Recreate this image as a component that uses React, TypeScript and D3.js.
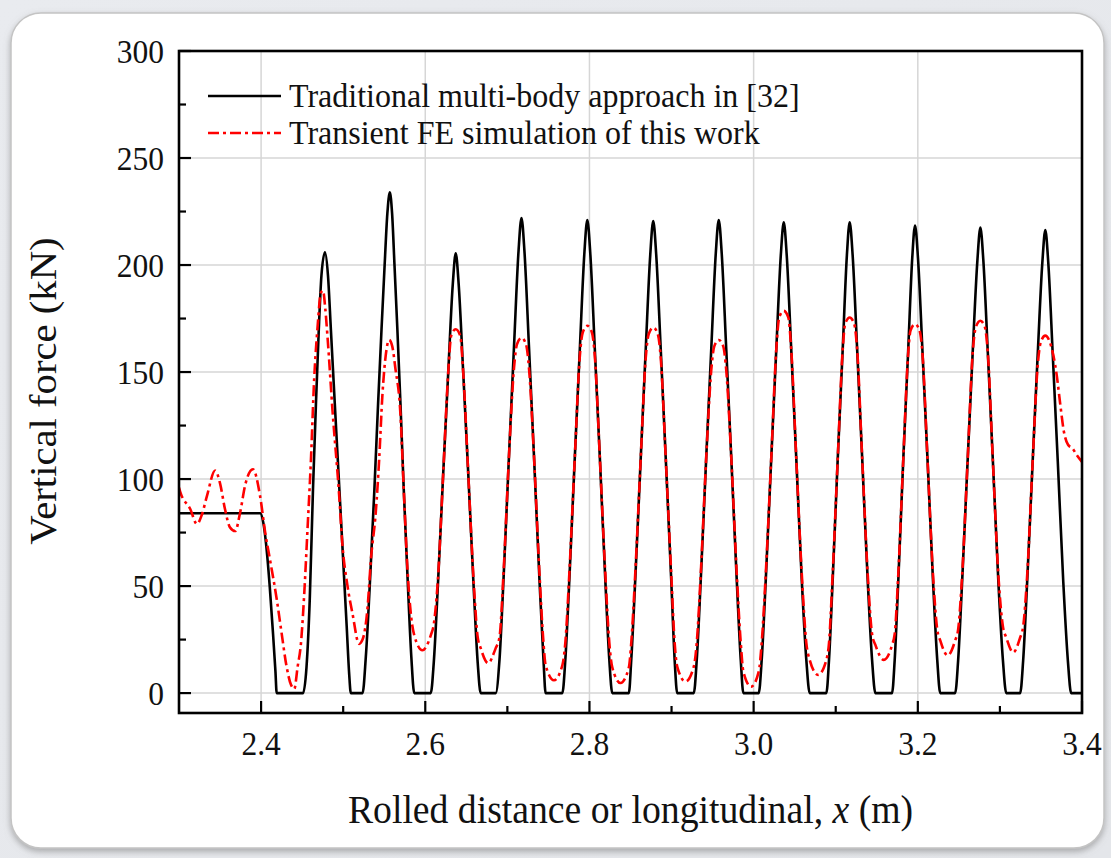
import React from "react";
import * as d3 from "d3";

// ---------- data ----------
const xTickValues = [2.4, 2.6, 2.8, 3.0, 3.2, 3.4];
const xTickLabels = ["2.4", "2.6", "2.8", "3.0", "3.2", "3.4"];
const xMinorTicks = [2.5, 2.7, 2.9, 3.1, 3.3];
const yTickValues = [0, 50, 100, 150, 200, 250, 300];
const yTickLabels = ["0", "50", "100", "150", "200", "250", "300"];
const yMinorTicks = [25, 75, 125, 175, 225, 275];

const seriesNames = [
  "Traditional multi-body approach in [32]",
  "Transient FE simulation of this work",
];

// Traditional multi-body approach (black solid) [x (m), force (kN)]
const multiBody: [number, number][] = [
  [2.3, 84], [2.399, 84], [2.4025, 80], [2.406, 70], [2.4105, 50], [2.4145, 28], [2.4175, 10], [2.419, 0],
  [2.4512, 0], [2.4553, 12], [2.4593, 44], [2.4632, 95], [2.4668, 135], [2.4703, 170], [2.4735, 195], [2.4778, 206],
  [2.4815, 195], [2.485, 170], [2.4898, 135], [2.4954, 95], [2.5, 62], [2.5043, 31], [2.5073, 9], [2.5093, 0],
  [2.5236, 0], [2.5276, 17], [2.533, 55], [2.538, 95], [2.5425, 135], [2.5467, 170], [2.5505, 200], [2.5538, 224], [2.5568, 234],
  [2.5596, 224], [2.5625, 200], [2.566, 170], [2.5698, 135], [2.5738, 95], [2.5783, 55], [2.583, 17], [2.5866, 0],
  [2.6067, 0], [2.6103, 14], [2.6152, 49], [2.6219, 103], [2.628, 150], [2.6335, 191], [2.6371, 205.5],
  [2.6407, 191], [2.6462, 150], [2.6523, 103], [2.659, 49], [2.6639, 14], [2.6675, 0],
  [2.6858, 0], [2.6904, 15.5], [2.6953, 53], [2.702, 111], [2.7081, 162], [2.7136, 206.5], [2.7172, 222],
  [2.7208, 206.5], [2.7263, 162], [2.7324, 111], [2.7391, 53], [2.744, 15.5], [2.7466, 0],
  [2.767, 0], [2.7706, 15.5], [2.7755, 53], [2.7822, 110.5], [2.7883, 161], [2.7938, 205.5], [2.7974, 221],
  [2.801, 205.5], [2.8065, 161], [2.8126, 110.5], [2.8193, 53], [2.8242, 15.5], [2.8278, 0],
  [2.848, 0], [2.8509, 15.4], [2.8558, 53], [2.8625, 110], [2.8686, 161], [2.8741, 205], [2.8777, 220.5],
  [2.8813, 205], [2.8868, 161], [2.8929, 110], [2.8996, 53], [2.9038, 15.4], [2.9069, 0],
  [2.9271, 0], [2.9307, 15.5], [2.9356, 53], [2.9423, 110.5], [2.9484, 161], [2.9539, 205.5], [2.9575, 221],
  [2.9611, 205.5], [2.9666, 161], [2.9727, 110.5], [2.9794, 53], [2.9843, 15.5], [2.9875, 0],
  [3.0062, 0], [3.0098, 15.4], [3.0148, 53], [3.0215, 110], [3.0276, 160.6], [3.0331, 204.6], [3.0367, 220],
  [3.0403, 204.6], [3.0458, 160.6], [3.0519, 110], [3.0586, 53], [3.0642, 15.4], [3.0683, 0],
  [3.0886, 0], [3.0918, 15.4], [3.0963, 53], [3.1025, 110], [3.1085, 160.6], [3.1136, 204.6], [3.117, 220],
  [3.1206, 204.6], [3.1261, 160.6], [3.1322, 110], [3.1389, 53], [3.1443, 15.4], [3.1483, 0],
  [3.1686, 0], [3.1718, 15.3], [3.1762, 52.4], [3.1823, 109.3], [3.1882, 159.5], [3.1932, 203.2], [3.1966, 218.5],
  [3.2002, 203.2], [3.2057, 159.5], [3.2118, 109.3], [3.2185, 52.4], [3.2237, 15.3], [3.2273, 0],
  [3.2455, 0], [3.2491, 15.2], [3.254, 52.2], [3.2607, 108.8], [3.2668, 158.8], [3.2726, 202.3], [3.2762, 217.5],
  [3.2798, 202.3], [3.2853, 158.8], [3.2914, 108.8], [3.2981, 52.2], [3.3037, 15.2], [3.3077, 0],
  [3.3247, 0], [3.3283, 15.1], [3.3332, 51.9], [3.3399, 108.2], [3.346, 157.9], [3.3517, 201.2], [3.3553, 216.3],
  [3.3589, 201.2], [3.3644, 157.9], [3.3705, 108.2], [3.3772, 51.9], [3.3828, 15.1], [3.3868, 0],
  [3.4, 0],
];

// Transient FE simulation (red dash-dot) [x (m), force (kN)]
const feSimulation: [number, number][] = [
  [2.3, 96], [2.3015, 94], [2.3137, 86], [2.3218, 79], [2.328, 83.5], [2.334, 92], [2.344, 104], [2.35, 98],
  [2.356, 86], [2.362, 77.5], [2.3684, 75.7], [2.3745, 84.4], [2.3805, 97], [2.39, 104.6], [2.3988, 92],
  [2.405, 75], [2.411, 62], [2.419, 44], [2.425, 28], [2.431, 12.5], [2.4363, 4], [2.4405, 2], [2.4444, 12],
  [2.4485, 23], [2.4525, 46], [2.4566, 77], [2.4606, 108], [2.4647, 147], [2.4688, 171], [2.4728, 187], [2.4755, 188],
  [2.4781, 180], [2.481, 166], [2.487, 132], [2.495, 93], [2.4989, 70], [2.5053, 50], [2.5114, 37], [2.5194, 23],
  [2.5236, 25], [2.5297, 40], [2.5337, 62], [2.5398, 85], [2.5438, 109], [2.5479, 140], [2.5519, 158], [2.5559, 165],
  [2.5598, 162], [2.5635, 152], [2.5698, 130], [2.5738, 95], [2.5783, 58], [2.583, 35], [2.5866, 27], [2.5966, 20],
  [2.6067, 27], [2.6103, 32], [2.6152, 52], [2.6219, 103], [2.628, 150], [2.6316, 167], [2.6371, 170],
  [2.6426, 167], [2.6462, 150], [2.6523, 103], [2.659, 52], [2.6639, 26], [2.6675, 21], [2.6766, 14],
  [2.6858, 21], [2.6904, 26], [2.6953, 56], [2.702, 111], [2.7081, 152], [2.7117, 163], [2.7172, 166],
  [2.7227, 163], [2.7263, 152], [2.7324, 111], [2.7391, 56], [2.744, 23.5], [2.7466, 13], [2.7568, 6],
  [2.767, 13], [2.7706, 23.5], [2.7755, 56], [2.7822, 110.5], [2.7883, 157.6], [2.7919, 168.6], [2.7974, 171.6],
  [2.8029, 168.6], [2.8065, 157.6], [2.8126, 110.5], [2.8193, 56], [2.8242, 23.5], [2.8278, 12], [2.8379, 4.7],
  [2.848, 12], [2.8509, 23.4], [2.8558, 56], [2.8625, 110], [2.8686, 156.8], [2.8722, 167.8], [2.8777, 170.8],
  [2.8832, 167.8], [2.8868, 156.8], [2.8929, 110], [2.8996, 56], [2.9038, 23.4], [2.9069, 12.4], [2.917, 5.4],
  [2.9271, 12.4], [2.9307, 23.5], [2.9356, 56], [2.9423, 110.5], [2.9484, 151], [2.952, 162], [2.9575, 165],
  [2.963, 162], [2.9666, 151], [2.9727, 110.5], [2.9794, 56], [2.9843, 23.5], [2.9875, 10], [2.9969, 3],
  [3.0062, 10], [3.0098, 23.4], [3.0148, 56], [3.0215, 110], [3.0276, 160.6], [3.0312, 175.6], [3.0367, 178.6],
  [3.0422, 175.6], [3.0458, 160.6], [3.0519, 110], [3.0586, 56], [3.0642, 23.4], [3.0683, 15.5], [3.0785, 8.5],
  [3.0886, 15.5], [3.0918, 23.4], [3.0963, 56], [3.1025, 110], [3.1085, 160.6], [3.1115, 172.5], [3.117, 175.5],
  [3.1225, 172.5], [3.1261, 160.6], [3.1322, 110], [3.1389, 56], [3.1443, 27.5], [3.1483, 22.5], [3.1585, 15.5],
  [3.1686, 22.5], [3.1718, 27.5], [3.1762, 55.4], [3.1823, 109.3], [3.1882, 158.4], [3.1911, 169.4], [3.1966, 172.4],
  [3.2021, 169.4], [3.2057, 158.4], [3.2118, 109.3], [3.2185, 55.4], [3.2237, 29.6], [3.2273, 24.6], [3.2364, 17.6],
  [3.2455, 24.6], [3.2491, 29.6], [3.254, 55.2], [3.2607, 108.8], [3.2668, 158.8], [3.2707, 171], [3.2762, 174],
  [3.2817, 171], [3.2853, 158.8], [3.2914, 108.8], [3.2981, 55.2], [3.3037, 31], [3.3077, 26], [3.3162, 19],
  [3.3247, 26], [3.3283, 31], [3.3332, 54.9], [3.3399, 108.2], [3.346, 153], [3.3498, 164], [3.3553, 167],
  [3.3608, 164], [3.3694, 148], [3.3735, 135], [3.3778, 122.5], [3.383, 116], [3.3883, 114.4], [3.394, 111], [3.4, 108],
];

// ---------- layout ----------
const W = 1111;
const H = 858;
const plot = { left: 179, right: 1082, top: 51, bottom: 713 };
const FONT = "'Liberation Serif', 'Times New Roman', Times, serif";
const SY = 1.08; // reference text is slightly taller than wide

export default function App() {
  const x = d3.scaleLinear().domain([2.3, 3.4]).range([plot.left, plot.right]);
  const y = d3.scaleLinear().domain([-9.3, 300]).range([plot.bottom, plot.top]);

  const lineGen = d3
    .line<[number, number]>()
    .x((d) => x(d[0]))
    .y((d) => y(d[1]))
    .curve(d3.curveMonotoneX);

  const blackPath = lineGen(multiBody) || "";
  const redPath = lineGen(feSimulation) || "";

  const gridColor = "#d6d6d6";

  return (
    <svg
      width={W}
      height={H}
      viewBox={`0 0 ${W} ${H}`}
      style={{ position: "fixed", left: 0, top: 0, display: "block" }}
    >
      <defs>
        <linearGradient id="bg" x1="0" y1="0" x2="1" y2="1">
          <stop offset="0" stopColor="#e9ebef" />
          <stop offset="1" stopColor="#e4e6ea" />
        </linearGradient>
        <filter id="shadow" x="-5%" y="-5%" width="110%" height="110%">
          <feDropShadow dx="0" dy="3" stdDeviation="3" floodColor="#777" floodOpacity="0.55" />
        </filter>
        <clipPath id="plotClip">
          <rect x={plot.left} y={plot.top} width={plot.right - plot.left} height={plot.bottom - plot.top} />
        </clipPath>
      </defs>

      {/* page + card */}
      <rect x={0} y={0} width={W} height={H} fill="url(#bg)" />
      <rect x={11} y={13} width={1093} height={835} rx={30} ry={30} fill="#ffffff" stroke="#c4c4c4" strokeWidth={1.5} filter="url(#shadow)" />

      {/* grid */}
      <g>
        {xTickValues.filter((v) => v < 3.4).map((v) => (
          <line key={"gx" + v} x1={x(v)} x2={x(v)} y1={plot.top} y2={plot.bottom} stroke={gridColor} strokeWidth={1.5} />
        ))}
        {yTickValues.filter((v) => v < 300).map((v) => (
          <line key={"gy" + v} x1={plot.left} x2={plot.right} y1={y(v)} y2={y(v)} stroke={gridColor} strokeWidth={1.5} />
        ))}
      </g>

      {/* series */}
      <g clipPath="url(#plotClip)">
        <path d={blackPath} fill="none" stroke="#000" strokeWidth={2.6} strokeLinejoin="round" />
        <path d={redPath} fill="none" stroke="#ff0000" strokeWidth={2.6} strokeDasharray="11 4 3 4" />
      </g>

      {/* ticks */}
      <g stroke="#000" strokeWidth={2.2}>
        {xTickValues.map((v) => (
          <line key={"tx" + v} x1={x(v)} x2={x(v)} y1={plot.bottom} y2={plot.bottom - 12} />
        ))}
        {xMinorTicks.map((v) => (
          <line key={"mx" + v} x1={x(v)} x2={x(v)} y1={plot.bottom} y2={plot.bottom - 7} />
        ))}
        {yTickValues.map((v) => (
          <line key={"ty" + v} x1={plot.left} x2={plot.left + 12} y1={y(v)} y2={y(v)} />
        ))}
        {yMinorTicks.map((v) => (
          <line key={"my" + v} x1={plot.left} x2={plot.left + 7} y1={y(v)} y2={y(v)} />
        ))}
      </g>

      {/* frame */}
      <rect x={plot.left} y={plot.top} width={plot.right - plot.left} height={plot.bottom - plot.top} fill="none" stroke="#000" strokeWidth={2.6} />

      {/* tick labels */}
      <g fontFamily={FONT} fontSize={31.5} fill="#111">
        {xTickValues.map((v, i) => (
          <g key={"lx" + v} transform={`translate(${x(v)}, 755) scale(1, ${SY})`}>
            <text x={0} y={0} textAnchor="middle">{xTickLabels[i]}</text>
          </g>
        ))}
        {yTickValues.map((v, i) => (
          <g key={"ly" + v} transform={`translate(164, ${y(v)}) scale(1, ${SY})`}>
            <text x={0} y={0} dy="0.35em" textAnchor="end">{yTickLabels[i]}</text>
          </g>
        ))}
      </g>

      {/* axis titles */}
      <g transform={`translate(${(plot.left + plot.right) / 2}, 823) scale(1, ${SY})`}>
        <text x={0} y={0} textAnchor="middle" fontFamily={FONT} fontSize={37.7} fill="#111">
          Rolled distance or longitudinal, <tspan fontStyle="italic">x</tspan> (m)
        </text>
      </g>
      <g transform={`translate(56, 391) rotate(-90) scale(${SY}, 1)`}>
        <text x={0} y={0} textAnchor="middle" fontFamily={FONT} fontSize={37.7} fill="#111">
          Vertical force (kN)
        </text>
      </g>

      {/* legend */}
      <g fontFamily={FONT} fontSize={32} fill="#111">
        <line x1={208} x2={281} y1={96} y2={96} stroke="#000" strokeWidth={2.6} />
        <g transform={`translate(289, 107) scale(1, ${SY})`}>
          <text x={0} y={0}>{seriesNames[0]}</text>
        </g>
        <line x1={208} x2={281} y1={133} y2={133} stroke="#ff0000" strokeWidth={2.6} strokeDasharray="11 4 3 4" />
        <g transform={`translate(289, 144) scale(1, ${SY})`}>
          <text x={0} y={0}>{seriesNames[1]}</text>
        </g>
      </g>
    </svg>
  );
}
